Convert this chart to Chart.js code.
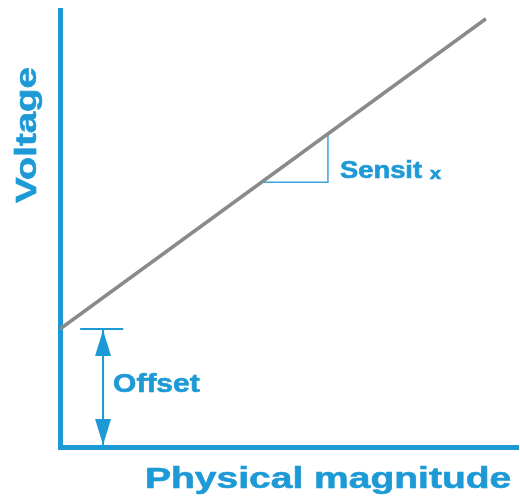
<!DOCTYPE html>
<html>
<head>
<meta charset="utf-8">
<script src="https://cdn.jsdelivr.net/npm/chart.js@4"></script>
<style>
  html, body { margin: 0; padding: 0; background: #fff; }
  #wrap { width: 520px; height: 501px; }
</style>
</head>
<body>
<div id="wrap"><canvas id="sensor-chart"></canvas></div>
<script>
// sensor response: voltage vs physical magnitude
const magnitude = [0, 93];
const voltage = [27, 98];

// sensitivity triangle under the line
const slopeX = [44, 58.5, 58.5];
const slopeY = [60.6, 60.6, 71.7];

// offset marker
const offsetValue = 27;
const offsetTickX = [4.4, 13.8];
const offsetArrowX = 9.4;

const blue = '#1d9ad6';
const gray = '#8a8a8a';
const font = 'Liberation Sans';

const toPoints = (xs, ys) => xs.map((x, i) => ({ x: x, y: ys[i] }));

const sensorData = {
    datasets: [{
        data: toPoints(magnitude, voltage),
        borderColor: gray,
        borderWidth: 3.5,
        pointRadius: 0,
        showLine: true
    }, {
        data: toPoints(slopeX, slopeY),
        borderColor: '#3aa6dc',
        borderWidth: 1.5,
        pointRadius: 0,
        showLine: true
    }, {
        data: toPoints(offsetTickX, [offsetValue, offsetValue]),
        borderColor: blue,
        borderWidth: 2,
        pointRadius: 0,
        showLine: true
    }, {
        data: toPoints([offsetArrowX, offsetArrowX], [0, offsetValue]),
        borderColor: blue,
        borderWidth: 2,
        pointRadius: 0,
        showLine: true
    }]
};

// bold text, stretched wide and slightly heavier than the plain face
function label(ctx, text, x, y, size, stretch, angle) {
    ctx.save();
    ctx.translate(x, y);
    ctx.rotate(angle || 0);
    ctx.scale(stretch, 1);
    ctx.font = 'bold ' + size + 'px "' + font + '"';
    ctx.fillStyle = blue;
    ctx.strokeStyle = blue;
    ctx.lineWidth = 0.6;
    ctx.textBaseline = 'middle';
    ctx.fillText(text, 0, 0);
    ctx.strokeText(text, 0, 0);
    const w = ctx.measureText(text).width * stretch;
    ctx.restore();
    return w;
}

// arrowheads, axis titles and the two text labels
const annotate = {
    id: 'annotate',
    afterDraw(chart) {
        const ctx = chart.ctx;
        const xs = chart.scales.x;
        const ys = chart.scales.y;

        const ax = xs.getPixelForValue(offsetArrowX);
        const top = ys.getPixelForValue(offsetValue);
        const bottom = ys.getPixelForValue(0);
        ctx.save();
        ctx.fillStyle = blue;
        ctx.beginPath();
        ctx.moveTo(ax, top + 1);
        ctx.lineTo(ax - 8, top + 27);
        ctx.lineTo(ax + 8, top + 27);
        ctx.closePath();
        ctx.fill();
        ctx.beginPath();
        ctx.moveTo(ax, bottom - 2);
        ctx.lineTo(ax - 8, bottom - 28);
        ctx.lineTo(ax + 8, bottom - 28);
        ctx.closePath();
        ctx.fill();
        ctx.restore();

        label(ctx, 'Offset', ax + 10, (top + bottom) / 2 - 3, 25, 1.2);

        const sx = xs.getPixelForValue(slopeX[1]) + 12;
        const sy = ys.getPixelForValue(slopeY[0]) - 11;
        const w = label(ctx, 'Sensit ', sx, sy, 23, 1.19);
        label(ctx, 'x', sx + w, sy + 3, 17, 1.2);

        const area = chart.chartArea;
        label(ctx, 'Physical magnitude', 145, area.bottom + 33, 30, 1.3);
        label(ctx, 'Voltage', 28, 203, 30, 1.28, -Math.PI / 2);
    }
};

const sensorOptions = {
    responsive: true,
    maintainAspectRatio: false,
    animation: false,
    layout: {
        padding: { top: 10, right: 2, left: 60, bottom: 54 }
    },
    scales: {
        x: {
            type: 'linear',
            min: 0,
            max: 100,
            grid: { display: false, drawTicks: false },
            ticks: { display: false },
            border: { display: true, color: blue, width: 5 }
        },
        y: {
            type: 'linear',
            min: 0,
            max: 100,
            grid: { display: false, drawTicks: false },
            ticks: { display: false },
            border: { display: true, color: blue, width: 5 }
        }
    },
    plugins: {
        legend: { display: false },
        tooltip: { enabled: false }
    }
};

let sensorChart = new Chart(document.getElementById('sensor-chart'), {
    type: 'scatter',
    data: sensorData,
    options: sensorOptions,
    plugins: [annotate]
});
</script>
</body>
</html>
